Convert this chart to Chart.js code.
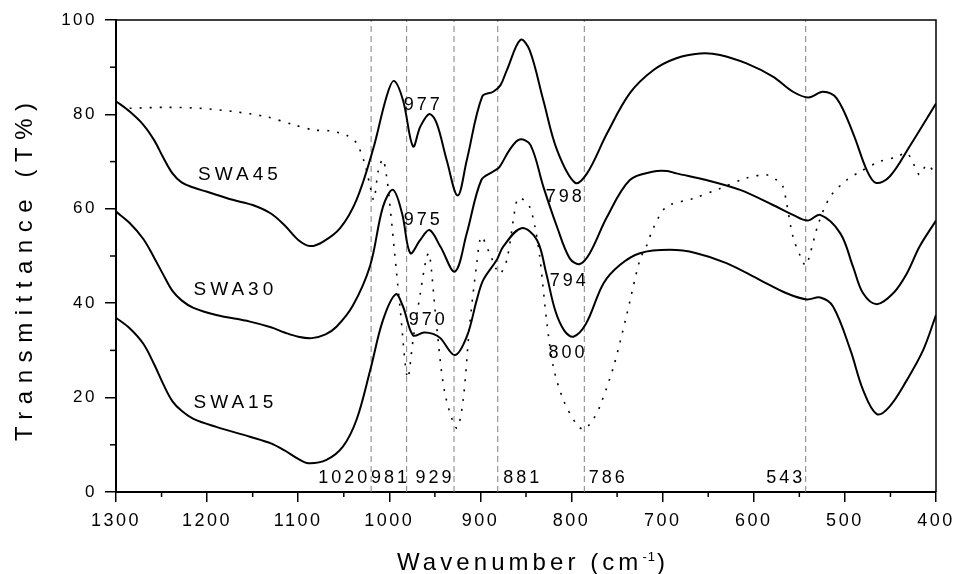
<!DOCTYPE html>
<html><head><meta charset="utf-8">
<script src="https://cdn.jsdelivr.net/npm/chart.js@4"></script>
<style>html,body{margin:0;padding:0;background:#fff}#wrap{width:954px;height:574px}</style>
</head><body><div id="wrap"><canvas id="c" width="954" height="574"></canvas></div>
<script>
// ---- data (wavenumber cm-1, transmittance %) ----
const wnSWA45 = [1300,1285,1270,1258,1248,1238,1228,1215,1200,1172,1150,1130,1115,1100,1087,1073,1054,1036,1018,1003,995,985,974,966,956,948,937,925,915,898,886,878,871,856,846,831,816,796,783,761,736,710,685,659,637,608,579,557,540,524,509,491,476,466,451,429,400];
const tSWA45  = [82.8,80.6,77.8,74.5,70.8,67.5,65.6,64.5,63.6,61.9,60.8,59.0,56.5,53.4,52.1,53.0,55.9,61.9,72.5,83.8,87.1,83.0,73.2,77.4,80.1,78.1,70.3,62.8,70.3,83.8,84.8,86.2,89.4,95.8,93.6,83.0,72.5,65.5,67.5,76.0,84.5,89.4,91.9,92.9,92.6,90.8,88.0,84.8,83.6,84.8,83.4,76.0,68.2,65.5,66.8,73.2,82.3];

const wnSWA30 = [1300,1285,1270,1258,1248,1238,1228,1215,1190,1153,1130,1115,1100,1085,1070,1058,1040,1021,1007,996,986,977,966,956,944,928,915,899,886,879,868,857,845,831,816,802,791,780,761,736,710,695,685,652,615,579,557,541,527,505,491,480,465,447,432,418,400];
const tSWA30  = [59.4,57.0,53.6,49.6,46.0,42.6,40.6,39.0,37.5,36.1,34.9,33.8,32.9,32.6,33.4,35.0,39.5,48.0,60.4,64.0,59.0,50.6,53.4,55.5,52.0,46.7,54.8,66.1,67.9,68.9,72.5,74.7,73.5,64.7,56.2,49.5,48.3,50.6,58.3,66.1,67.9,68.0,67.5,66.1,64.0,60.8,58.7,57.5,58.7,54.8,47.7,42.1,39.8,42.1,46.3,52.0,57.5];

const wnSWA15 = [1300,1285,1270,1258,1248,1238,1228,1215,1190,1153,1130,1115,1100,1089,1069,1051,1036,1021,1007,993,985,974,962,952,944,928,915,904,897,882,875,855,838,828,818,808,798,784,765,747,725,692,663,630,593,564,542,527,513,494,480,465,451,432,414,400];
const tSWA15  = [36.9,34.7,31.4,27.0,22.8,19.2,17.2,15.5,13.8,11.7,10.3,8.8,7.0,6.1,6.8,9.6,15.3,25.8,36.4,41.9,39.3,33.2,33.8,33.5,32.6,29.0,32.9,40.7,44.9,49.2,52.0,55.9,53.4,46.5,38.5,34.2,32.9,35.7,44.2,48.1,50.6,51.3,50.6,48.5,44.9,42.1,40.8,41.2,39.3,30.1,21.6,16.5,18.1,23.7,30.1,37.5];

const wnDotted = [1285,1244,1208,1171,1135,1105,1083,1065,1047,1036,1027,1021,1017,1012,1007,1003,1000,992,988,980,974,966,959,956,948,939,926,919,912,904,899,890,879,871,860,855,846,840,835,827,820,809,794,786,776,769,754,740,725,718,710,696,666,637,608,586,575,568,564,557,549,543,538,529,516,498,483,462,443,432,423,418,410,402];
const tDotted  = [81.3,81.5,81.3,80.6,79.5,77.8,76.7,76.5,75.6,73.9,69.6,64.7,61.9,68.2,70.5,66.8,62.0,46.3,38.6,24.1,32.2,42.1,49.9,50.6,35.0,20.9,13.5,19.5,35.0,48.5,54.1,50.6,46.3,49.2,61.9,62.2,60.4,56.0,50.0,35.7,26.5,19.5,14.2,13.3,15.5,18.1,26.5,37.1,49.2,52.0,56.0,60.4,62.2,64.3,66.5,67.2,66.1,64.7,61.2,54.1,50.0,48.0,50.6,56.9,62.6,66.1,67.9,70.0,71.0,71.8,68.9,67.2,69.3,67.9];

const peakLines = [1020, 981, 929, 881, 786, 543];
const peakLabelText = ['1020','981','929','881','786','543'];
const peakLabelWn = [1049.5, 998.7, 949.9, 853.6, 759.7, 564.8];
const peakLabelT = [3, 3, 3, 3, 3, 3];

const noteText = ['SWA45','SWA30','SWA15','977','975','970','798','794','800'];
const noteWn   = [1164, 1169, 1169, 962.7, 962.7, 957.2, 806.9, 802.6, 803.9];
const noteT    = [67.2, 42.8, 18.9, 82.0, 57.6, 36.4, 62.5, 44.6, 29.4];

const xTickValues = [1300,1200,1100,1000,900,800,700,600,500,400];
const yTickValues = [0,20,40,60,80,100];
const xMinorValues = [1250,1150,1050,950,850,750,650,550,450];
const yMinorValues = [10,30,50,70,90];

const xTitleParts = ['Wavenumber (cm', '-1', ')'];
const yTitle = 'Transmittance (T%)';

const FONT = "'Liberation Sans', Arial, Helvetica, sans-serif";
const toPts = (xs, ys) => xs.map((v, i) => ({x: v, y: ys[i]}));

const datasets = [];
peakLines.forEach(p => datasets.push({
  data: [{x: p, y: 0}, {x: p, y: 100}],
  borderColor: '#808080', borderWidth: 1, borderDash: [6, 4], pointRadius: 0, tension: 0, order: 5
}));
datasets.push({label: 'reference', data: toPts(wnDotted, tDotted), borderColor: '#000', borderWidth: 1.6,
  borderDash: [2, 8], pointRadius: 0, tension: 0.3, order: 2});
[[wnSWA45, tSWA45], [wnSWA30, tSWA30], [wnSWA15, tSWA15]].forEach(([w, t]) => datasets.push({
  data: toPts(w, t), borderColor: '#000', borderWidth: 2, pointRadius: 0, tension: 0.35, order: 1
}));

const extras = {
  id: 'extras',
  beforeLayout(chart) { chart.ctx.letterSpacing = '2.5px'; },
  beforeDraw(chart) { chart.ctx.letterSpacing = '2.5px'; },
  afterDraw(chart) {
    const {ctx, chartArea: a, scales: {x, y}} = chart;
    ctx.save();
    ctx.strokeStyle = '#000';
    ctx.lineWidth = 1.5;
    ctx.beginPath();
    ctx.moveTo(a.left, a.top); ctx.lineTo(a.right, a.top); ctx.lineTo(a.right, a.bottom);
    ctx.stroke();
    xMinorValues.forEach(v => { const px = x.getPixelForValue(v); ctx.beginPath(); ctx.moveTo(px, a.bottom); ctx.lineTo(px, a.bottom + 5); ctx.stroke(); });
    yMinorValues.forEach(v => { const py = y.getPixelForValue(v); ctx.beginPath(); ctx.moveTo(a.left, py); ctx.lineTo(a.left - 6, py); ctx.stroke(); });
    ctx.fillStyle = '#000';
    ctx.textAlign = 'center';
    ctx.textBaseline = 'middle';
    noteText.forEach((s, i) => {
      ctx.font = (s.startsWith('SWA') ? '19px ' : '18px ') + FONT;
      ctx.letterSpacing = s.startsWith('SWA') ? '4px' : '3px';
      ctx.fillText(s, x.getPixelForValue(noteWn[i]), y.getPixelForValue(noteT[i]));
    });
    ctx.font = '18px ' + FONT;
    ctx.letterSpacing = '3px';
    peakLabelText.forEach((s, i) => ctx.fillText(s, x.getPixelForValue(peakLabelWn[i]), y.getPixelForValue(peakLabelT[i])));
    // x title, fitted to the width seen in the figure
    ctx.textBaseline = 'alphabetic';
    ctx.textAlign = 'left';
    ctx.letterSpacing = '0px';
    ctx.font = '24px ' + FONT; const n1 = ctx.measureText(xTitleParts[0]).width; const n3 = ctx.measureText(xTitleParts[2]).width;
    ctx.font = '13px ' + FONT; const n2 = ctx.measureText(xTitleParts[1]).width;
    const gaps = xTitleParts[0].length + 1;
    const sp = (272 - (n1 + n2 + n3 + 3)) / gaps;
    const sx = 397;
    ctx.font = '24px ' + FONT; ctx.letterSpacing = sp + 'px';
    ctx.fillText(xTitleParts[0], sx, 570);
    const w1 = ctx.measureText(xTitleParts[0]).width;
    ctx.font = '13px ' + FONT; ctx.letterSpacing = '1px';
    ctx.fillText(xTitleParts[1], sx + w1, 561);
    const w2 = ctx.measureText(xTitleParts[1]).width;
    ctx.font = '24px ' + FONT; ctx.letterSpacing = '0px';
    ctx.fillText(xTitleParts[2], sx + w1 + w2 + 1, 570);
    // y title
    ctx.font = '24px ' + FONT; ctx.letterSpacing = '0px';
    const ny = ctx.measureText(yTitle).width;
    const spy = (338 - ny) / (yTitle.length - 1);
    ctx.letterSpacing = spy + 'px';
    ctx.translate(32, 441);
    ctx.rotate(-Math.PI / 2);
    ctx.textAlign = 'left';
    ctx.fillText(yTitle, 0, 0);
    ctx.restore();
  }
};

new Chart(document.getElementById('c'), {
  type: 'line',
  data: {datasets},
  plugins: [extras],
  options: {
    responsive: false, animation: false, devicePixelRatio: 1,
    layout: {padding: {left: 0, right: 18, top: 20, bottom: 0}},
    plugins: {legend: {display: false}, tooltip: {enabled: false}},
    scales: {
      x: {
        type: 'linear', min: 400, max: 1300, reverse: true,
        afterBuildTicks: s => { s.ticks = xTickValues.map(v => ({value: v})); },
        afterFit: s => { s.height = 82; s.paddingLeft = 0; s.paddingRight = 0; },
        ticks: {font: {size: 18, family: FONT}, color: '#000', padding: 8, maxRotation: 0, autoSkip: false,
                callback: v => String(v)},
        grid: {drawOnChartArea: false, drawTicks: true, tickLength: 10, color: '#000', lineWidth: 1.5},
        border: {display: true, color: '#000', width: 2}
      },
      y: {
        type: 'linear', min: 0, max: 100,
        afterBuildTicks: s => { s.ticks = yTickValues.map(v => ({value: v})); },
        afterFit: s => { s.width = 116; s.paddingTop = 0; s.paddingBottom = 0; },
        ticks: {font: {size: 17, family: FONT}, color: '#000', padding: 8, callback: v => String(v)},
        grid: {drawOnChartArea: false, drawTicks: true, tickLength: 11, color: '#000', lineWidth: 1.5},
        border: {display: true, color: '#000', width: 2}
      }
    }
  }
});
</script></body></html>
